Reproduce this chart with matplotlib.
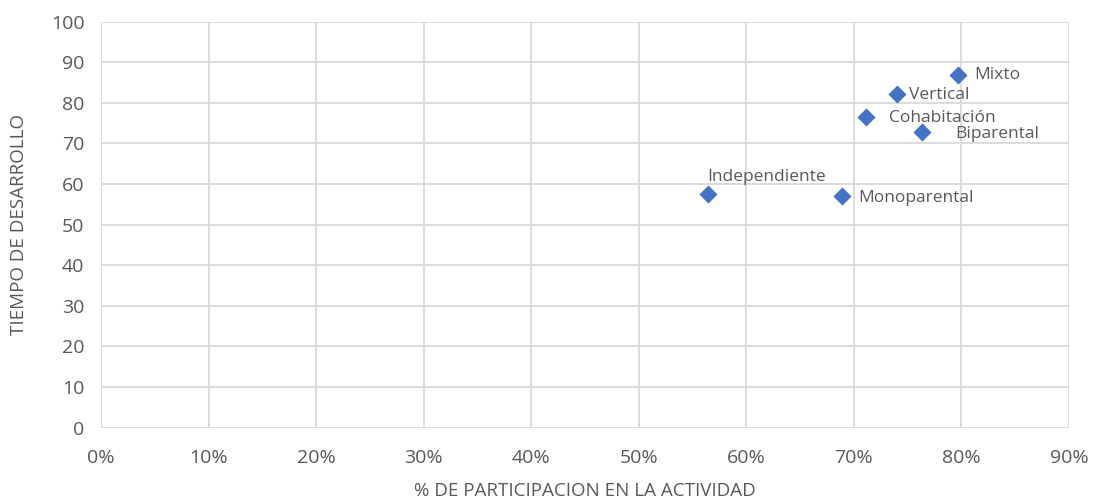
import matplotlib
matplotlib.use("Agg")
import matplotlib.pyplot as plt
from matplotlib.ticker import PercentFormatter

categories = ["Mixto", "Vertical", "Cohabitación", "Biparental", "Independiente", "Monoparental"]
participacion = [0.797, 0.740, 0.711, 0.763, 0.564, 0.689]
tiempo = [86.9, 82.1, 76.6, 72.8, 57.6, 57.0]
# label offsets in pixels (dx, dy)
offsets = [(16, 0), (12, -1), (23, -1), (34, -2), (0, 17), (16, -2)]

plt.rcParams['font.family'] = ['Open Sans', 'DejaVu Sans']
text_color = "#595959"

fig = plt.figure(figsize=(10.93, 5.04), dpi=100)
ax = fig.add_axes([0.0924, 0.1514, 0.978 - 0.0924, 0.957 - 0.1514])

ax.scatter(participacion, tiempo, marker="D", s=85, color="#4472C4", zorder=3, linewidths=0)
for name, x, y, (dx, dy) in zip(categories, participacion, tiempo, offsets):
    ax.annotate(name, (x, y), xytext=(dx, dy), textcoords="offset pixels",
                ha="left", va="center", fontsize=12.5, color=text_color)

ax.set_xlim(0, 0.9)
ax.set_ylim(0, 100)
ax.set_xticks([i / 10 for i in range(10)])
ax.set_yticks(range(0, 101, 10))
ax.xaxis.set_major_formatter(PercentFormatter(1.0, decimals=0))
ax.grid(True, color="#d9d9d9", linewidth=1.3)
ax.set_axisbelow(True)
for s in ax.spines.values():
    s.set_visible(False)
ax.tick_params(axis="both", length=0, labelsize=14, colors=text_color)
ax.tick_params(axis="x", pad=15)
ax.tick_params(axis="y", pad=12)
ax.set_xlabel("% DE PARTICIPACION EN LA ACTIVIDAD", fontsize=13.5, color=text_color, labelpad=11)
ax.set_ylabel("TIEMPO DE DESARROLLO", fontsize=13.5, color=text_color, labelpad=16)

fig.savefig("out.png", dpi=100)
